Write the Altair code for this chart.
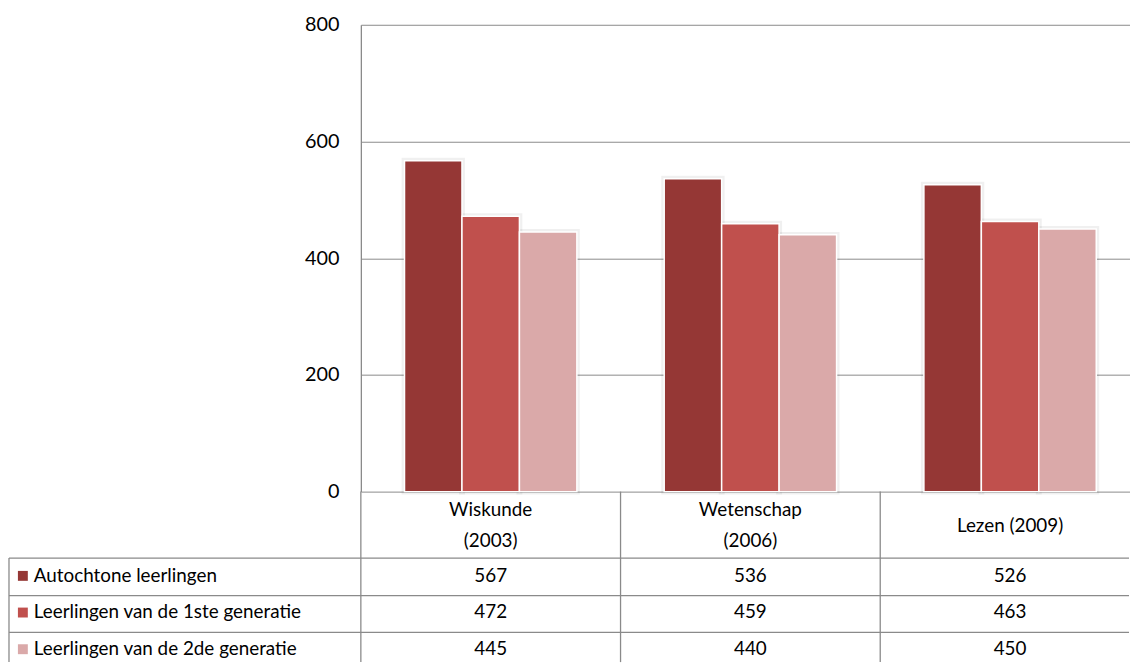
import altair as alt
import pandas as pd

categories = ["Wiskunde\n(2003)", "Wetenschap\n(2006)", "Lezen (2009)"]
series = ["Autochtone leerlingen", "Leerlingen van de 1ste generatie", "Leerlingen van de 2de generatie"]
autochtone = [567, 536, 526]
gen1 = [472, 459, 463]
gen2 = [445, 440, 450]
colors = ["#953735", "#C0504D", "#DAA9A9"]
y_ticks = [0, 200, 400, 600, 800]

rows = []
for si, (s, vals) in enumerate(zip(series, [autochtone, gen1, gen2])):
    for c, v in zip(categories, vals):
        rows.append({"cat": c, "series": s, "row": si, "value": v})
df = pd.DataFrame(rows)
cat_df = pd.DataFrame({"cat": categories})
ser_df = pd.DataFrame({"series": series, "row": list(range(len(series)))})
one = pd.DataFrame({"k": [0]})

FONT = "Lato"
FS = 19
GRID = "#8a8a8a"
W, H = 775, 471
BAND = 262

x_scale = alt.Scale(domain=categories, range=[0, 3 * BAND], paddingInner=0, paddingOuter=0)
color_scale = alt.Scale(domain=series, range=colors)
row_y = alt.Y("row:Q", scale=alt.Scale(domain=[0, 2], range=[556, 630]), axis=None)
x_enc = alt.X("cat:N", scale=x_scale, axis=None, title=None)
xoff_enc = alt.XOffset("series:N", scale=alt.Scale(domain=series, paddingInner=0, paddingOuter=0.76))

shadow = alt.Chart(df).mark_bar(fillOpacity=0, stroke="#000000", strokeOpacity=0.06, strokeWidth=6).encode(
    x=x_enc, xOffset=xoff_enc,
    y=alt.Y("value:Q", scale=alt.Scale(domain=[0, 800]), axis=None),
)

bars = alt.Chart(df).mark_bar(stroke="white", strokeWidth=1.5).encode(
    x=x_enc, xOffset=xoff_enc,
    y=alt.Y("value:Q", scale=alt.Scale(domain=[0, 800]),
            axis=alt.Axis(values=y_ticks, grid=True, gridColor=GRID, domainColor=GRID,
                          domainWidth=1.3, ticks=False, labelFontSize=20, labelFont=FONT,
                          labelColor="black", labelPadding=22, title=None)),
    color=alt.Color("series:N", scale=color_scale, legend=None),
)

header2 = alt.Chart(cat_df).transform_filter("indexof(datum.cat, '\\n') >= 0").mark_text(
    font=FONT, fontSize=FS, lineBreak="\n", lineHeight=31, baseline="middle", color="black").encode(
    x=alt.X("cat:N", scale=x_scale, axis=None), y=alt.value(490), text="cat:N")
header1 = alt.Chart(cat_df).transform_filter("indexof(datum.cat, '\\n') < 0").mark_text(
    font=FONT, fontSize=FS, baseline="middle", color="black").encode(
    x=alt.X("cat:N", scale=x_scale, axis=None), y=alt.value(506), text="cat:N")

vlines = alt.Chart(cat_df).mark_rule(color=GRID, strokeWidth=1.3).encode(
    x=alt.X("cat:N", scale=x_scale, axis=None, bandPosition=0),
    y=alt.value(471), y2=alt.value(643))

left_border = alt.Chart(one).mark_rule(color=GRID, strokeWidth=1.3).encode(
    x=alt.value(-355), y=alt.value(538), y2=alt.value(643))

hlines = [alt.Chart(one).mark_rule(color=GRID, strokeWidth=1.3).encode(
    x=alt.value(-355), x2=alt.value(W), y=alt.value(yy)) for yy in (538, 576, 613)]

values_txt = alt.Chart(df).mark_text(font=FONT, fontSize=FS, baseline="middle", color="black").encode(
    x=alt.X("cat:N", scale=x_scale, axis=None), y=row_y, text="value:Q")

squares = alt.Chart(ser_df).mark_square(size=100, opacity=1).encode(
    x=alt.value(-341), y=row_y,
    color=alt.Color("series:N", scale=color_scale, legend=None))

names = alt.Chart(ser_df).mark_text(font=FONT, fontSize=FS, baseline="middle", align="left",
                                    color="black").encode(
    x=alt.value(-330), y=row_y, text="series:N")

chart = alt.layer(shadow, bars, vlines, left_border, *hlines, header2, header1,
                  values_txt, squares, names).resolve_scale(
    y="independent"
).properties(
    width=W, height=H, padding={"left": 0, "top": 4, "right": 0, "bottom": 0}
).configure_view(stroke=None)

chart.save("out.html", embed_options={"renderer": "svg", "actions": False})
